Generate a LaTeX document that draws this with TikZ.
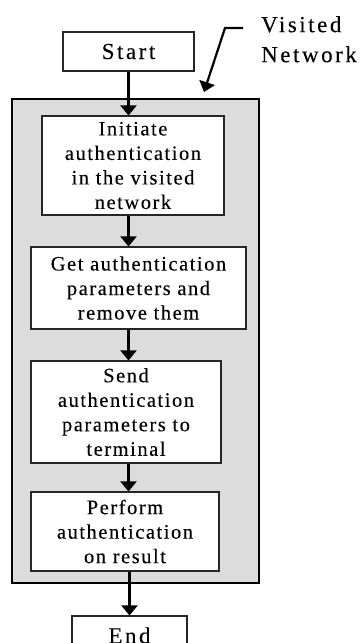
\documentclass[tikz,border=0pt]{standalone}
\usepackage{fontspec}
\setmainfont{Liberation Serif}
\newfontfamily\bigf[LetterSpace=11,FakeBold=0.15]{Liberation Serif}
\newfontfamily\smallf[LetterSpace=7.5,FakeBold=0.15]{Liberation Serif}
\usetikzlibrary{arrows.meta}
\definecolor{vngray}{RGB}{220,220,220}
\begin{document}
\begin{tikzpicture}[x=1pt,y=-1pt,
  flow/.style={draw=black!85, line width=1.1pt, fill=white, align=center, inner sep=0pt,
    font=\smallf\fontsize{20.5}{24.5}\selectfont},
  term/.style={draw=black!85, line width=1.1pt, fill=white, inner sep=0pt,
    font=\bigf\fontsize{23}{27}\selectfont},
  arr/.style={line width=2.2pt, -{Triangle[width=16pt,length=10pt]}}]
\useasboundingbox (0,0) rectangle (363,643);
\clip (0,0) rectangle (363,643);
\node[draw=black, line width=2pt, fill=vngray, minimum width=247pt, minimum height=484pt, inner sep=0pt] (vn) at (135.5,341) {};
\node[term, minimum width=131pt, minimum height=39pt] (start) at (128.5,51.5) {Start};
\node[flow, minimum width=182pt, minimum height=99pt] (b1) at (133,165.5) {Initiate\\authentication\\in the visited\\network};
\node[flow, minimum width=215pt, minimum height=82pt] (b2) at (138.5,288) {Get authentication\\parameters and\\remove them};
\node[flow, minimum width=190pt, minimum height=102pt] (b3) at (126,412) {Send\\authentication\\parameters to\\terminal};
\node[flow, minimum width=188pt, minimum height=79pt] (b4) at (125,531.5) {Perform\\authentication\\on result};
\node[term, minimum width=115pt, minimum height=39pt] (end) at (129.5,635.5) {End};
\draw[arr] (start.south) -- (start.south |- b1.north);
\draw[arr] (start.south |- b1.south) -- (start.south |- b2.north);
\draw[arr] (start.south |- b2.south) -- (start.south |- b3.north);
\draw[arr] (start.south |- b3.south) -- (start.south |- b4.north);
\draw[arr] (end.north |- b4.south) -- (end.north);
\coordinate (p0) at (243,28);
\coordinate (p1) at (225,28);
\coordinate (p2) at (204,92);
\draw[arr] (p0) -- (p1) -- (p2);
\node[anchor=north west, align=left, inner sep=0pt, font=\bigf\fontsize{23}{30}\selectfont] (vnl) at (261,16) {Visited\\Network};
\end{tikzpicture}
\end{document}
